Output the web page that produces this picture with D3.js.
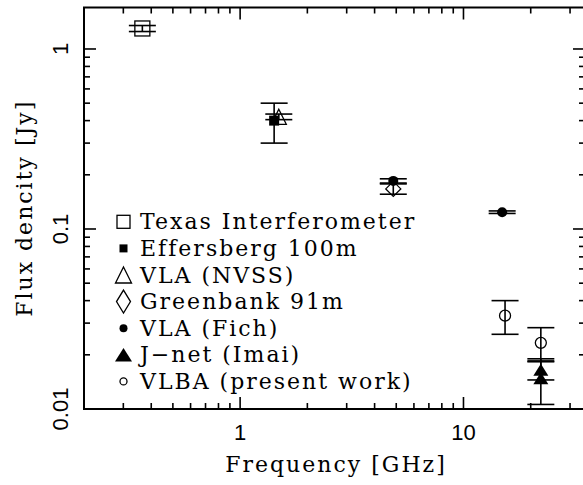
<!DOCTYPE html>
<html>
<head>
<meta charset="utf-8">
<script src="https://cdn.jsdelivr.net/npm/d3@7"></script>
<style>
  html, body { margin: 0; padding: 0; background: #fff; }
  svg { display: block; }
</style>
</head>
<body>
<svg id="chart" width="583" height="485"></svg>
<script>
// Radio spectrum: flux density versus observing frequency, one array set per survey.
const texasFreq = [0.365], texasFlux = [1.30], texasErr = [0.05];
const effFreq = [1.42], effFlux = [0.40], effErr = [0.10];
const nvssFreq = [1.49], nvssFlux = [0.42], nvssErr = [0.015];
const gbFreq = [4.85], gbFlux = [0.167], gbErr = [0.011];
const fichFreq = [4.85, 14.9], fichFlux = [0.185, 0.124], fichErr = [0.005, 0.002];
const jnetFreq = [22.2, 22.2], jnetFlux = [0.0165, 0.0148], jnetErr = [0.002, 0.0042];
const vlbaFreq = [15.35, 22.2], vlbaFlux = [0.033, 0.0233], vlbaErr = [0.007, 0.005];

const xTickLabels = ["1", "10"];
const yTickLabels = ["1", "0.1", "0.01"];
const legendLabels = ["Texas Interferometer", "Effersberg 100m", "VLA (NVSS)",
  "Greenbank 91m", "VLA (Fich)", "J\u2212net (Imai)", "VLBA (present work)"];

const svg = d3.select("#chart");
const plotL = 84, plotR = 585, plotT = 7.5, plotB = 409;

const x = d3.scaleLog().domain([0.2, 35]).range([plotL, plotR]);
const y = d3.scaleLog().domain([0.01, 1.7]).range([plotB, plotT]);

const serif = "'DejaVu Serif', serif";
const sans = "'Liberation Sans', Arial, sans-serif";
const serifSize = 22, serifSpacing = 2;

// tick positions
const xMajor = xTickLabels.map(Number);
const xMinor = [];
[0.1, 1, 10].forEach(d => { for (let k = 2; k <= 9; k++) { const v = d * k; if (v > 0.2 && v < 35) xMinor.push(v); } });
const yMajor = yTickLabels.map(Number);
const yMinor = [];
[0.01, 0.1, 1].forEach(d => { for (let k = 2; k <= 9; k++) { const v = d * k; if (v < 1.7) yMinor.push(v); } });

const g = svg.append("g").attr("stroke", "#000").attr("stroke-width", 1.6).attr("fill", "none");

// ticks: all four sides, pointing inward
const majLen = 12, minLen = 6;
xMajor.forEach(v => {
  g.append("line").attr("x1", x(v)).attr("x2", x(v)).attr("y1", plotB).attr("y2", plotB - majLen);
  g.append("line").attr("x1", x(v)).attr("x2", x(v)).attr("y1", plotT).attr("y2", plotT + majLen);
});
xMinor.forEach(v => {
  g.append("line").attr("x1", x(v)).attr("x2", x(v)).attr("y1", plotB).attr("y2", plotB - minLen);
  g.append("line").attr("x1", x(v)).attr("x2", x(v)).attr("y1", plotT).attr("y2", plotT + minLen);
});
yMajor.forEach(v => {
  g.append("line").attr("x1", plotL).attr("x2", plotL + majLen).attr("y1", y(v)).attr("y2", y(v));
  g.append("line").attr("x1", plotR).attr("x2", plotR - majLen).attr("y1", y(v)).attr("y2", y(v));
});
yMinor.forEach(v => {
  g.append("line").attr("x1", plotL).attr("x2", plotL + minLen).attr("y1", y(v)).attr("y2", y(v));
  g.append("line").attr("x1", plotR).attr("x2", plotR - minLen).attr("y1", y(v)).attr("y2", y(v));
});

// frame
g.append("rect").attr("x", plotL).attr("y", plotT).attr("width", plotR - plotL).attr("height", plotB - plotT)
  .attr("stroke-width", 2);

// tick labels
svg.selectAll("text.xt").data(xTickLabels).enter().append("text")
  .attr("x", d => x(+d)).attr("y", 440).attr("text-anchor", "middle")
  .attr("font-family", sans).attr("font-size", 22).text(d => d);
svg.selectAll("text.yt").data(yTickLabels).enter().append("text")
  .attr("transform", d => `translate(68,${y(+d)}) rotate(-90)`).attr("text-anchor", "middle")
  .attr("font-family", sans).attr("font-size", 22).text(d => d);

// axis titles
svg.append("text").attr("x", 335 + serifSpacing / 2).attr("y", 472).attr("text-anchor", "middle")
  .attr("font-family", serif).attr("font-size", serifSize).attr("letter-spacing", serifSpacing)
  .text("Frequency [GHz]");
svg.append("text").attr("transform", `translate(32,${(plotT + plotB) / 2}) rotate(-90)`)
  .attr("text-anchor", "middle").attr("font-family", serif).attr("font-size", serifSize)
  .attr("letter-spacing", serifSpacing).text("Flux dencity [Jy]");

// error bars with caps
const capHalf = 13.5;
function errorBars(freq, flux, err) {
  freq.forEach((f, i) => {
    const cx = x(f), hi = y(flux[i] + err[i]), lo = y(flux[i] - err[i]);
    g.append("line").attr("x1", cx).attr("x2", cx).attr("y1", hi).attr("y2", lo);
    g.append("line").attr("x1", cx - capHalf).attr("x2", cx + capHalf).attr("y1", hi).attr("y2", hi);
    g.append("line").attr("x1", cx - capHalf).attr("x2", cx + capHalf).attr("y1", lo).attr("y2", lo);
  });
}
[[texasFreq, texasFlux, texasErr], [effFreq, effFlux, effErr], [nvssFreq, nvssFlux, nvssErr],
 [gbFreq, gbFlux, gbErr], [fichFreq, fichFlux, fichErr], [jnetFreq, jnetFlux, jnetErr],
 [vlbaFreq, vlbaFlux, vlbaErr]].forEach(s => errorBars(...s));

// marker shapes
const shapes = {
  openSquare: (p, cx, cy, s) => p.append("rect").attr("x", cx - s / 2).attr("y", cy - s / 2).attr("width", s).attr("height", s)
    .attr("fill", "none").attr("stroke", "#000").attr("stroke-width", 1.3),
  fillSquare: (p, cx, cy, s) => p.append("rect").attr("x", cx - s / 2).attr("y", cy - s / 2).attr("width", s).attr("height", s)
    .attr("fill", "#000"),
  openTri: (p, cx, cy, s) => p.append("path").attr("d", `M${cx},${cy - s / 2}L${cx + s / 2},${cy + s / 2}L${cx - s / 2},${cy + s / 2}Z`)
    .attr("fill", "none").attr("stroke", "#000").attr("stroke-width", 1.3),
  openDiamond: (p, cx, cy, s, h) => p.append("path").attr("d", `M${cx},${cy - (h || s) / 2}L${cx + s / 2},${cy}L${cx},${cy + (h || s) / 2}L${cx - s / 2},${cy}Z`)
    .attr("fill", "none").attr("stroke", "#000").attr("stroke-width", 1.3),
  fillCircle: (p, cx, cy, s) => p.append("circle").attr("cx", cx).attr("cy", cy).attr("r", s / 2).attr("fill", "#000"),
  fillTri: (p, cx, cy, s) => p.append("path").attr("d", `M${cx},${cy - s * 0.4}L${cx + s / 2},${cy + s * 0.4}L${cx - s / 2},${cy + s * 0.4}Z`)
    .attr("fill", "#000"),
  openCircle: (p, cx, cy, s) => p.append("circle").attr("cx", cx).attr("cy", cy).attr("r", s / 2)
    .attr("fill", "none").attr("stroke", "#000").attr("stroke-width", 1.3)
};

const mg = svg.append("g");
function markers(freq, flux, shape, size) {
  freq.forEach((f, i) => shapes[shape](mg, x(f), y(flux[i]), size));
}
markers(texasFreq, texasFlux, "openSquare", 15);
markers(effFreq, effFlux, "fillSquare", 10);
markers(nvssFreq, nvssFlux, "openTri", 15);
markers(gbFreq, gbFlux, "openDiamond", 15);
markers(fichFreq, fichFlux, "fillCircle", 10);
markers(jnetFreq, jnetFlux, "fillTri", 15);
markers(vlbaFreq, vlbaFlux, "openCircle", 11);

// legend
const legShapes = [["openSquare", 13], ["fillSquare", 8], ["openTri", 16], ["openDiamond", 14, 23],
  ["fillCircle", 8], ["fillTri", 17], ["openCircle", 7]];
const lg = svg.append("g");
legendLabels.forEach((t, i) => {
  const base = 229.3 + i * 26.6;
  const [shape, s, h] = legShapes[i];
  shapes[shape](lg, 123.5, base - 7.5, s, h);
  lg.append("text").attr("x", 140).attr("y", base).attr("font-family", serif).attr("font-size", serifSize)
    .attr("letter-spacing", serifSpacing).text(t);
});
</script>
</body>
</html>
